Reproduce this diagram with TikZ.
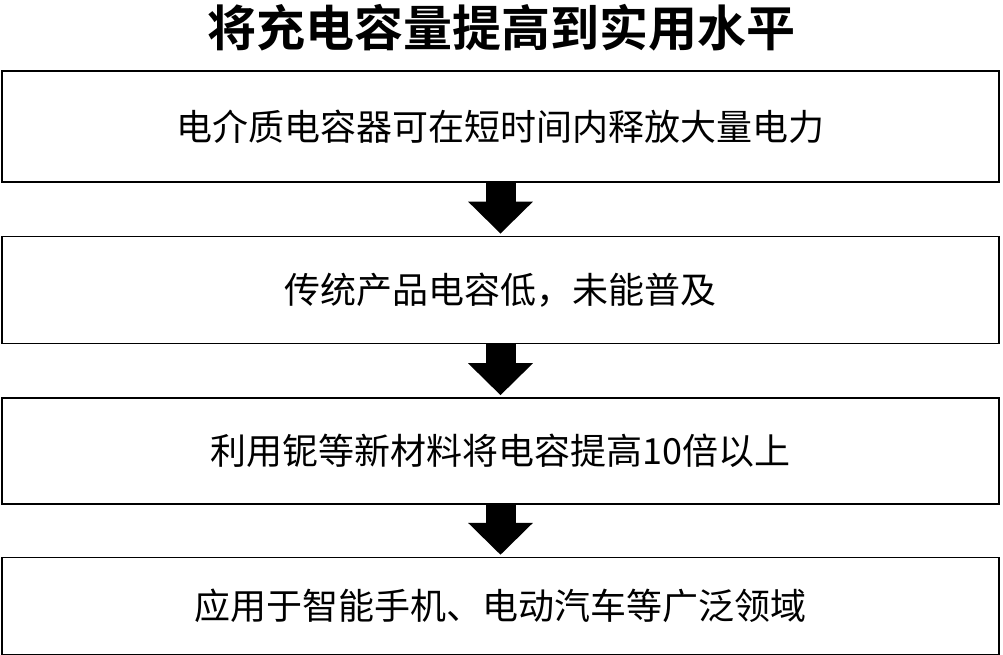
\documentclass[tikz,border=0pt]{standalone}
\usepackage{fontspec}
\setmainfont{Noto Sans CJK SC}
\newfontfamily\titlefont{Noto Sans CJK SC Bold}
\usetikzlibrary{positioning, arrows.meta}

\begin{document}
\begin{tikzpicture}[x=1pt, y=1pt, node distance=53pt,
    every node/.style={font=\fontsize{36}{42}\selectfont},
    stage/.style={rectangle, draw, line width=1.6pt, minimum width=997pt, inner sep=0pt, align=center},
    flow/.style={line width=30pt, -{Triangle[length=32pt, width=63pt]}, shorten >=2pt}]

  \useasboundingbox (0,0) rectangle (1003,-654);

  \node[font=\titlefont\fontsize{49}{53}\selectfont] (titel) at (501.5,-28) {将充电容量提高到实用水平};

  \node[stage, minimum height=111pt, anchor=north] (s1) at (500.5,-70) {电介质电容器可在短时间内释放大量电力};
  \node[stage, minimum height=107pt, below=of s1] (s2) {传统产品电容低，未能普及};
  \node[stage, minimum height=106pt, below=of s2] (s3) {利用铌等新材料将电容提高10倍以上};
  \node[stage, minimum height=97pt, below=52pt of s3] (s4) {应用于智能手机、电动汽车等广泛领域};

  \draw[flow] (s1.south) -- (s2.north);
  \draw[flow] (s2.south) -- (s3.north);
  \draw[flow] (s3.south) -- (s4.north);
\end{tikzpicture}
\end{document}
